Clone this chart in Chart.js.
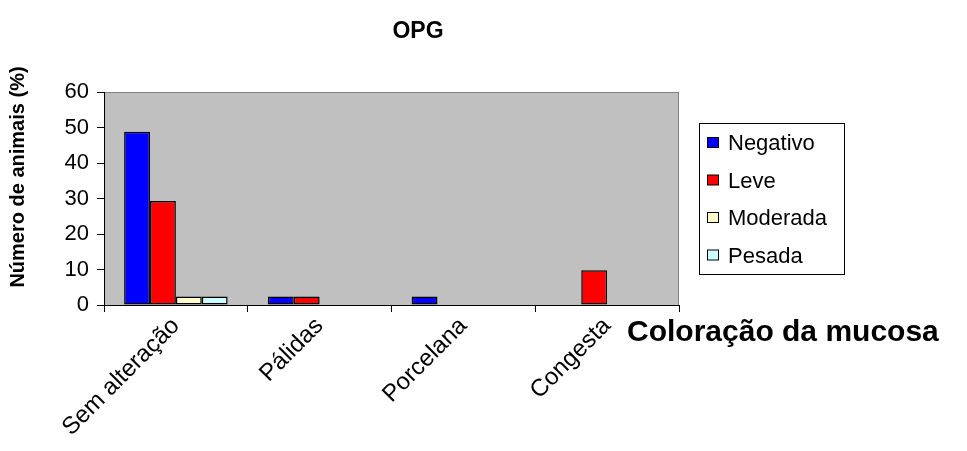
<!DOCTYPE html>
<html lang="pt">
<head>
    <meta charset="UTF-8">
    <title>OPG - Coloração da mucosa</title>
    <style>
        body { margin: 0; background: #fff; }
        #wrap { width: 967px; height: 451px; position: relative; }
    </style>
</head>
<body>
    <div id="wrap">
        <canvas id="opgChart" width="967" height="451"></canvas>
    </div>

    <script src="https://cdn.jsdelivr.net/npm/chart.js"></script>
    <script>
        // Data
        const categories = ['Sem alteração', 'Pálidas', 'Porcelana', 'Congesta'];
        const seriesNames = ['Negativo', 'Leve', 'Moderada', 'Pesada'];
        const negativo = [48.8, 2.4, 2.4, 0];
        const leve = [29.3, 2.4, 0, 9.8];
        const moderada = [2.4, 0, 0, 0];
        const pesada = [2.4, 0, 0, 0];
        const yTicks = [0, 10, 20, 30, 40, 50, 60];

        const seriesColors = ['#0000FF', '#FF0000', '#FFFFCC', '#CCFFFF'];
        const FONT = '"Liberation Sans", Arial, sans-serif';

        // Plot background, titles and the boxed legend
        const decorPlugin = {
            id: 'decor',
            beforeDraw(chart) {
                const { ctx, chartArea: a } = chart;
                ctx.save();
                ctx.fillStyle = '#C0C0C0';
                ctx.fillRect(a.left, a.top, a.right - a.left, a.bottom - a.top);
                ctx.strokeStyle = '#808080';
                ctx.lineWidth = 1;
                ctx.strokeRect(a.left + 0.5, a.top + 0.5, a.right - a.left - 1, a.bottom - a.top);
                ctx.restore();
            },
            afterDraw(chart) {
                const ctx = chart.ctx;
                ctx.save();
                ctx.fillStyle = '#000';

                // chart title
                ctx.font = 'bold 23px ' + FONT;
                ctx.textAlign = 'center';
                ctx.textBaseline = 'alphabetic';
                ctx.fillText('OPG', 418, 38);

                // x axis title, placed right of the plot
                ctx.font = 'bold 30px ' + FONT;
                ctx.textAlign = 'left';
                ctx.fillText('Coloração da mucosa', 627, 341);

                // y axis title
                ctx.save();
                ctx.translate(18, 177);
                ctx.rotate(-Math.PI / 2);
                ctx.font = 'bold 20px ' + FONT;
                ctx.textAlign = 'center';
                ctx.textBaseline = 'middle';
                ctx.fillText('Número de animais (%)', 0, 0);
                ctx.restore();

                // legend
                const lx = 699, ly = 123, lw = 145, lh = 151;
                ctx.fillStyle = '#fff';
                ctx.fillRect(lx, ly, lw, lh);
                ctx.strokeStyle = '#000';
                ctx.lineWidth = 1;
                ctx.strokeRect(lx + 0.5, ly + 0.5, lw, lh);
                ctx.font = '22px ' + FONT;
                ctx.textAlign = 'left';
                ctx.textBaseline = 'middle';
                chart.data.datasets.forEach((ds, i) => {
                    const cy = 143 + i * 37.5;
                    ctx.fillStyle = ds.backgroundColor;
                    ctx.fillRect(707.5, cy - 5.5, 11, 10);
                    ctx.strokeStyle = '#000';
                    ctx.strokeRect(707.5, cy - 5.5, 11, 10);
                    ctx.fillStyle = '#000';
                    ctx.fillText(ds.label, 728, cy + 1);
                });
                ctx.restore();
            }
        };

        const seriesValues = [negativo, leve, moderada, pesada];

        new Chart(document.getElementById('opgChart'), {
            type: 'bar',
            data: {
                labels: categories,
                datasets: seriesNames.map((name, i) => ({
                    label: name,
                    data: seriesValues[i],
                    backgroundColor: seriesColors[i],
                    borderColor: '#000',
                    borderWidth: 1.5,
                    borderSkipped: false,
                    categoryPercentage: 0.72,
                    barPercentage: 1
                }))
            },
            options: {
                responsive: false,
                animation: false,
                layout: { padding: { left: 0, right: 288, top: 92, bottom: 0 } },
                plugins: {
                    legend: { display: false },
                    title: { display: false },
                    tooltip: { enabled: false }
                },
                scales: {
                    x: {
                        afterFit(scale) { scale.height = 146; },
                        border: { color: '#000', width: 1 },
                        grid: {
                            offset: true,
                            drawOnChartArea: false,
                            color: '#000',
                            tickLength: 7
                        },
                        ticks: {
                            color: '#000',
                            font: { family: FONT, size: 24 },
                            minRotation: 45,
                            maxRotation: 45,
                            padding: 0
                        }
                    },
                    y: {
                        min: 0,
                        max: 60,
                        afterFit(scale) { scale.width = 104; },
                        afterBuildTicks(scale) {
                            scale.ticks = yTicks.map(v => ({ value: v }));
                        },
                        border: { color: '#000', width: 1 },
                        grid: {
                            drawOnChartArea: false,
                            color: '#000',
                            tickLength: 7
                        },
                        ticks: {
                            color: '#000',
                            font: { family: FONT, size: 22 },
                            padding: 8
                        }
                    }
                }
            },
            plugins: [decorPlugin]
        });
    </script>
</body>
</html>
